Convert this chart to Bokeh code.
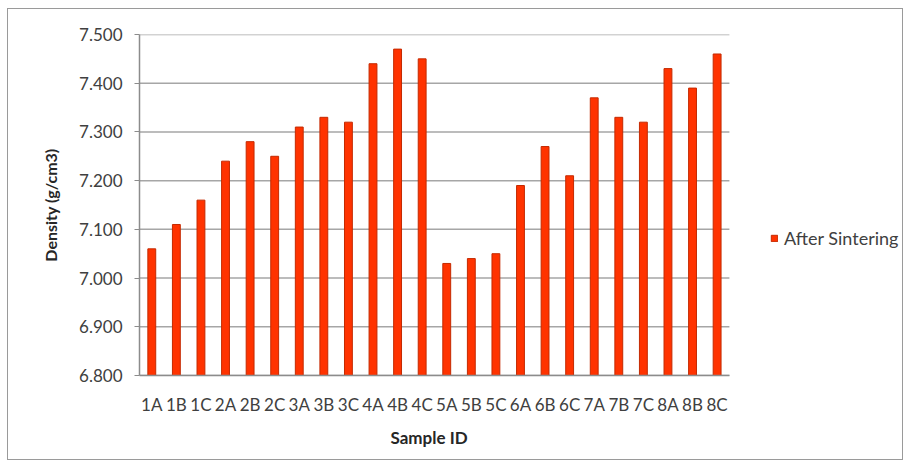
from bokeh.plotting import figure
from bokeh.models import ColumnDataSource, Legend, LegendItem, Range1d, FixedTicker, Title
from bokeh.embed import file_html
from bokeh.resources import INLINE

samples = ["1A", "1B", "1C", "2A", "2B", "2C", "3A", "3B", "3C", "4A", "4B", "4C",
           "5A", "5B", "5C", "6A", "6B", "6C", "7A", "7B", "7C", "8A", "8B", "8C"]
density = [7.06, 7.11, 7.16, 7.24, 7.28, 7.25, 7.31, 7.33, 7.32, 7.44, 7.47, 7.45,
           7.03, 7.04, 7.05, 7.19, 7.27, 7.21, 7.37, 7.33, 7.32, 7.43, 7.39, 7.46]
y_ticks = [6.8, 6.9, 7.0, 7.1, 7.2, 7.3, 7.4, 7.5]
series_name = "After Sintering"
x_title = "Sample ID"
y_title = "Density (g/cm3)"

n = len(samples)
xpos = [i + 0.5 for i in range(n)]
src = ColumnDataSource(dict(x=xpos, top=density))

# frame extends into the right margin so the legend can sit there; grid/axis are bounded to the categories
p = figure(x_range=Range1d(0, 30.92), y_range=Range1d(6.8, 7.5), width=896, height=452,
           output_backend="svg", toolbar_location=None,
           min_border_left=131, min_border_right=5, min_border_top=25, min_border_bottom=86)
p.styles = {"border": "1px solid #9a9a9a", "margin-left": "7px", "margin-top": "8px"}
p.outline_line_color = None
p.background_fill_color = "white"

# horizontal gridlines, limited to the category area
p.segment(x0=0, x1=n, y0=y_ticks, y1=y_ticks, line_color="#a6a6a6", line_width=1.5, level="underlay")

r = p.vbar(x="x", top="top", bottom=6.8, width=0.32, source=src,
           fill_color="#ff3300", line_color="#c42a00", line_width=1)

p.yaxis.ticker = FixedTicker(ticks=y_ticks)
p.yaxis.major_label_overrides = {t: f"{t:.3f}" for t in y_ticks}
p.yaxis.axis_line_color = "#8c8c8c"
p.yaxis.axis_line_width = 1.5
p.yaxis.major_tick_line_color = "#8c8c8c"
p.yaxis.major_tick_out = 5
p.yaxis.major_tick_in = 0
p.yaxis.minor_tick_line_color = None
p.yaxis.major_label_text_font = "Lato"
p.yaxis.major_label_text_font_size = "17px"
p.yaxis.major_label_text_color = "#404040"
p.yaxis.major_label_standoff = 12
p.yaxis.axis_label = y_title
p.yaxis.axis_label_text_font = "Lato"
p.yaxis.axis_label_text_font_size = "16px"
p.yaxis.axis_label_text_font_style = "bold"
p.yaxis.axis_label_text_color = "#262626"
p.yaxis.axis_label_standoff = 16

p.xaxis.bounds = (0, n)
p.xaxis.ticker = FixedTicker(ticks=xpos)
p.xaxis.major_label_overrides = {x: s for x, s in zip(xpos, samples)}
p.xaxis.axis_line_color = "#8c8c8c"
p.xaxis.axis_line_width = 1.5
p.xaxis.major_tick_line_color = None
p.xaxis.major_tick_out = 0
p.xaxis.major_tick_in = 0
p.xaxis.minor_tick_line_color = None
p.xaxis.major_label_text_font = "Lato"
p.xaxis.major_label_text_font_size = "17px"
p.xaxis.major_label_text_color = "#404040"
p.xaxis.major_label_standoff = 18

p.xgrid.grid_line_color = None
p.ygrid.grid_line_color = None

xt = Title(text=x_title, align="left", offset=251, standoff=14,
           text_font="Lato", text_font_size="17px", text_font_style="bold", text_color="#262626")
p.add_layout(xt, "below")

legend = Legend(items=[LegendItem(label=series_name, renderers=[r])],
                location=(631, 126), border_line_color=None, background_fill_alpha=0,
                padding=0, margin=0, glyph_width=8, glyph_height=8, label_height=20,
                label_text_font="Lato", label_text_font_size="18px",
                label_text_color="#404040", label_standoff=6)
p.add_layout(legend)

open("out.html", "w").write(file_html(p, INLINE))
